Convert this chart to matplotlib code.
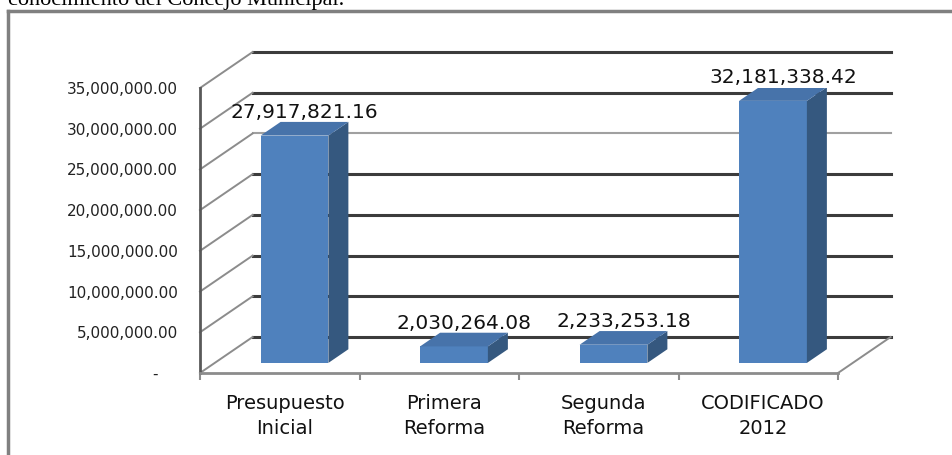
import matplotlib.pyplot as plt
from matplotlib.patches import Polygon
from matplotlib.lines import Line2D

# data
categories = ["Presupuesto\nInicial", "Primera\nReforma", "Segunda\nReforma", "CODIFICADO\n2012"]
values = [27917821.16, 2030264.08, 2233253.18, 32181338.42]
y_ticks = [0, 5e6, 10e6, 15e6, 20e6, 25e6, 30e6, 35e6]
y_tick_labels = ["-    ", "5,000,000.00", "10,000,000.00", "15,000,000.00",
                 "20,000,000.00", "25,000,000.00", "30,000,000.00", "35,000,000.00"]

# fake 3d look: depth of the floor in data units, bar position inside it
DX = 0.33
DY = 4.42e6
F0 = 0.28   # bar front, fraction of depth
FD = 0.38   # bar depth, fraction of depth
W = 0.425

FRONT = "#4F81BD"
SIDE = "#35587F"
TOP = "#4773AA"


def main():
    fig = plt.figure(figsize=(9.52, 4.55), dpi=100)
    ax = fig.add_axes([200 / 952, 82 / 455, 638 / 952, 285 / 455])
    ax.set_xlim(-0.5, 3.5)
    ax.set_ylim(0, 35e6)

    # back wall gridlines
    for t in y_ticks:
        light = t == 25e6
        ax.plot([-0.5 + DX, 3.5 + DX], [t + DY, t + DY],
                color="#a0a0a0" if light else "#3c3c3c",
                lw=1.5 if light else 2.2, clip_on=False, zorder=1)
        # side wall lines
        ax.plot([-0.5, -0.5 + DX], [t, t + DY], color="#8c8c8c", lw=1.4,
                clip_on=False, zorder=1)
    # floor right edge
    ax.plot([3.5, 3.5 + DX], [0, DY], color="#8c8c8c", lw=1.4, clip_on=False, zorder=1)

    # bars
    xs = [i + F0 * DX for i in range(len(values))]
    ax.bar(xs, values, width=W, bottom=F0 * DY, color=FRONT, zorder=3)
    for x, v in zip(xs, values):
        xl, xr = x - W / 2, x + W / 2
        y0, y1 = F0 * DY, v + F0 * DY
        side = Polygon([(xr, y0), (xr + FD * DX, y0 + FD * DY),
                        (xr + FD * DX, y1 + FD * DY), (xr, y1)],
                       closed=True, facecolor=SIDE, edgecolor="none", zorder=3)
        top = Polygon([(xl, y1), (xr, y1), (xr + FD * DX, y1 + FD * DY),
                       (xl + FD * DX, y1 + FD * DY)],
                      closed=True, facecolor=TOP, edgecolor="none", zorder=3)
        ax.add_patch(side)
        ax.add_patch(top)
        ax.annotate(f"{v:,.2f}", (x + FD * DX / 2, y1 + FD * DY),
                    xytext=(0, 3), textcoords="offset points",
                    ha="center", va="baseline", fontsize=14.5, color="#111111",
                    zorder=5, annotation_clip=False)

    # axes look
    for s in ["top", "right"]:
        ax.spines[s].set_visible(False)
    ax.spines["left"].set_color("#595959")
    ax.spines["left"].set_linewidth(2)
    ax.spines["bottom"].set_color("#8c8c8c")
    ax.spines["bottom"].set_linewidth(2)
    ax.set_yticks(y_ticks, y_tick_labels, fontsize=11, color="#222222")
    ax.tick_params(axis="y", length=0, pad=16)
    ax.set_xticks([i + 0.03 for i in range(len(categories))], categories,
                  fontsize=14, color="#111111", linespacing=1.4)
    ax.set_xticks([-0.5, 0.5, 1.5, 2.5, 3.5], minor=True)
    ax.tick_params(axis="x", which="major", length=0, pad=15)
    ax.tick_params(axis="x", which="minor", length=5, width=1.5, color="#8c8c8c")

    # frame of the embedded picture and the cut-off text above it
    fig.add_artist(Line2D([8 / 952, 1], [1 - 11 / 455, 1 - 11 / 455],
                          color="#808080", lw=2.5))
    fig.add_artist(Line2D([8 / 952, 8 / 952], [0, 1 - 11 / 455],
                          color="#808080", lw=2.5))
    fig.text(8 / 952, 1 - 5 / 455, "conocimiento del Concejo Municipal.",
             family="Liberation Serif", fontsize=16, va="baseline")

    fig.savefig("out.png", dpi=100)


if __name__ == "__main__":
    main()
